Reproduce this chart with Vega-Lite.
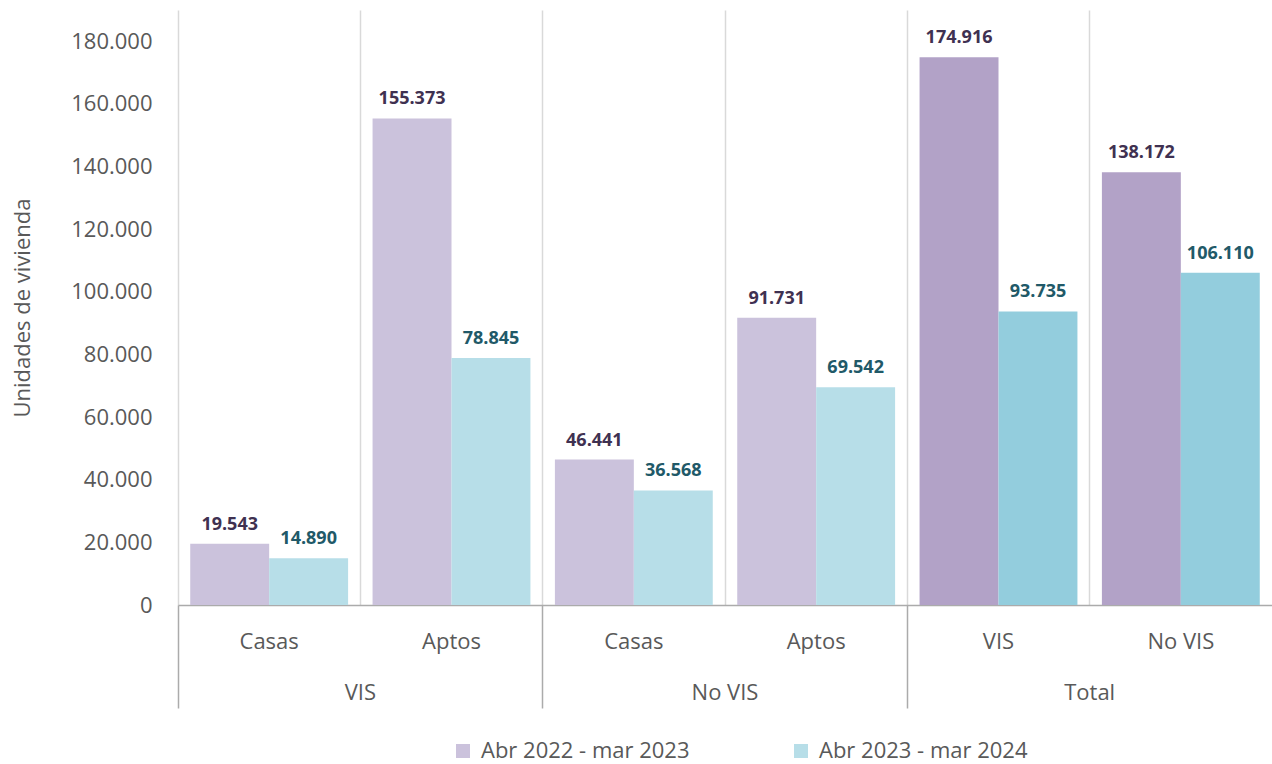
{
  "$schema": "https://vega.github.io/schema/vega-lite/v6.json",
  "width": 1094,
  "height": 595,
  "autosize": {"type": "none"},
  "padding": {"left": 178, "top": 10, "right": 0, "bottom": 159},
  "config": {
    "view": {"stroke": null},
    "font": "Open Sans",
    "locale": {"number": {"decimal": ",", "thousands": ".", "grouping": [3], "currency": ["$", ""]}}
  },
  "layer": [
    {
      "data": {
        "values": [
          {"group": "VIS", "sub": "Casas", "cat": "VIS|Casas", "series": "Abr 2022 - mar 2023", "value": 19543},
          {"group": "VIS", "sub": "Casas", "cat": "VIS|Casas", "series": "Abr 2023 - mar 2024", "value": 14890},
          {"group": "VIS", "sub": "Aptos", "cat": "VIS|Aptos", "series": "Abr 2022 - mar 2023", "value": 155373},
          {"group": "VIS", "sub": "Aptos", "cat": "VIS|Aptos", "series": "Abr 2023 - mar 2024", "value": 78845},
          {"group": "No VIS", "sub": "Casas", "cat": "No VIS|Casas", "series": "Abr 2022 - mar 2023", "value": 46441},
          {"group": "No VIS", "sub": "Casas", "cat": "No VIS|Casas", "series": "Abr 2023 - mar 2024", "value": 36568},
          {"group": "No VIS", "sub": "Aptos", "cat": "No VIS|Aptos", "series": "Abr 2022 - mar 2023", "value": 91731},
          {"group": "No VIS", "sub": "Aptos", "cat": "No VIS|Aptos", "series": "Abr 2023 - mar 2024", "value": 69542},
          {"group": "Total", "sub": "VIS", "cat": "Total|VIS", "series": "Abr 2022 - mar 2023", "value": 174916},
          {"group": "Total", "sub": "VIS", "cat": "Total|VIS", "series": "Abr 2023 - mar 2024", "value": 93735},
          {"group": "Total", "sub": "No VIS", "cat": "Total|No VIS", "series": "Abr 2022 - mar 2023", "value": 138172},
          {"group": "Total", "sub": "No VIS", "cat": "Total|No VIS", "series": "Abr 2023 - mar 2024", "value": 106110}
        ]
      },
      "encoding": {
        "x": {
          "field": "cat", "type": "nominal", "sort": null,
          "scale": {"domain": ["VIS|Casas", "VIS|Aptos", "No VIS|Casas", "No VIS|Aptos", "Total|VIS", "Total|No VIS"], "paddingInner": 0, "paddingOuter": 0},
          "axis": {
            "title": null, "labelExpr": "split(datum.label, '|')[1]", "labelAngle": 0,
            "grid": true, "gridColor": "#D9D9D9", "gridWidth": 1.5, "bandPosition": 0,
            "ticks": false, "tickSize": 0,
            "domain": true, "domainColor": "#ABABAB", "domainWidth": 1.5,
            "labelPadding": 26, "labelFontSize": 22, "labelColor": "#595959", "labelFont": "Open Sans"
          }
        },
        "xOffset": {
          "field": "series", "type": "nominal", "sort": null,
          "scale": {"domain": ["Abr 2022 - mar 2023", "Abr 2023 - mar 2024"], "paddingInner": 0, "paddingOuter": 0.155}
        },
        "y": {
          "field": "value", "type": "quantitative",
          "scale": {"domain": [0, 190000], "nice": false, "zero": true},
          "axis": {
            "values": [0, 20000, 40000, 60000, 80000, 100000, 120000, 140000, 160000, 180000],
            "format": ",.0f", "grid": false, "ticks": false, "domain": false,
            "labelPadding": 26, "labelFontSize": 22, "labelColor": "#595959", "labelFont": "Open Sans",
            "title": "Unidades de vivienda", "titleFontSize": 22, "titleFontWeight": "normal",
            "titleColor": "#595959", "titleFont": "Open Sans", "titlePadding": 36
          }
        }
      },
      "layer": [
        {
          "mark": {"type": "bar", "opacity": 1},
          "encoding": {
            "color": {
              "field": "series", "type": "nominal",
              "condition": [
                {"test": "datum.group === 'Total' && datum.series === 'Abr 2022 - mar 2023'", "value": "#B2A2C7"},
                {"test": "datum.group === 'Total'", "value": "#93CDDD"}
              ],
              "scale": {"domain": ["Abr 2022 - mar 2023", "Abr 2023 - mar 2024"], "range": ["#CBC2DC", "#B7DEE8"]},
              "legend": {
                "title": null, "orient": "none", "legendX": 274, "legendY": 730,
                "direction": "horizontal", "symbolType": "square", "symbolSize": 196,
                "symbolStrokeWidth": 0, "symbolOpacity": 1,
                "labelFontSize": 22, "labelColor": "#595959", "labelFont": "Open Sans",
                "columnPadding": 100, "labelOffset": 7, "labelLimit": 400, "padding": 0
              }
            }
          }
        },
        {
          "mark": {"type": "text", "fontWeight": "bold", "fontSize": 18, "baseline": "alphabetic", "align": "center", "dy": -14, "font": "Open Sans"},
          "encoding": {
            "text": {"field": "value", "type": "quantitative", "format": ",.0f"},
            "color": {
              "condition": {"test": "datum.series === 'Abr 2022 - mar 2023'", "value": "#3F3151"},
              "value": "#215968"
            }
          }
        }
      ]
    },
    {
      "data": {"values": [{"grp": "VIS"}, {"grp": "No VIS"}, {"grp": "Total"}]},
      "mark": {"type": "rule", "opacity": 0},
      "encoding": {
        "x": {
          "field": "grp", "type": "nominal", "sort": null,
          "scale": {"domain": ["VIS", "No VIS", "Total"], "paddingInner": 0, "paddingOuter": 0},
          "axis": {
            "orient": "bottom", "title": null, "labelAngle": 0, "grid": false, "domain": false,
            "ticks": true, "tickSize": 103, "tickColor": "#ABABAB", "tickWidth": 1.5, "bandPosition": 0,
            "labelPadding": -26, "labelFontSize": 22, "labelColor": "#595959", "labelFont": "Open Sans"
          }
        }
      }
    }
  ],
  "resolve": {"scale": {"x": "independent"}, "axis": {"x": "independent"}}
}
